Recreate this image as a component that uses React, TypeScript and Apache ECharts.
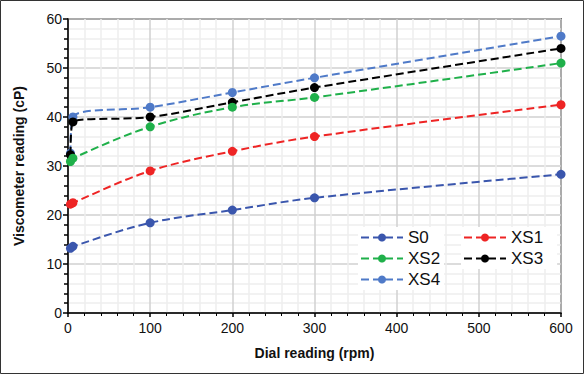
import React, { useEffect, useRef } from "react";
import * as echarts from "echarts";

const rpm = [3, 6, 100, 200, 300, 600];
const seriesNames = ["S0", "XS1", "XS2", "XS3", "XS4"];
const s0 = [13.2, 13.6, 18.4, 21, 23.5, 28.3];
const xs1 = [22.2, 22.5, 29, 33, 36, 42.5];
const xs2 = [30.9, 31.6, 38, 42, 44, 51];
const xs3 = [32.3, 39, 40, 43, 46, 54];
const xs4 = [32.6, 40, 42, 45, 48, 56.5];
const colors = ["#3a56ad", "#ee2424", "#1fb04a", "#000000", "#4f7ac8"];

export default function App() {
  const ref = useRef<HTMLDivElement>(null);
  useEffect(() => {
    if (!ref.current) return;
    const chart = echarts.init(ref.current, undefined, { renderer: "svg" });
    const all = [s0, xs1, xs2, xs3, xs4];
    const font = "'Liberation Sans', Arial, sans-serif";
    chart.setOption({
      animation: false,
      backgroundColor: "#ffffff",
      textStyle: { fontFamily: font },
      grid: {
        left: 68,
        right: 23,
        top: 19,
        bottom: 61,
        show: true,
        borderColor: "#000",
        borderWidth: 1.5,
        backgroundColor: "transparent",
      },
      graphic: [
        {
          type: "rect",
          shape: { x: 0.5, y: 0.5, width: 583, height: 373 },
          style: { fill: "none", stroke: "#333", lineWidth: 1 },
          silent: true,
        },
      ],
      legend: [
        {
          data: ["S0", "XS2", "XS4"],
          orient: "vertical",
          left: 358,
          top: 227,
          itemWidth: 42,
          itemHeight: 10,
          itemGap: 4,
          padding: [2, 4, 2, 2],
          backgroundColor: "#fff",
          textStyle: { fontSize: 17, color: "#111", fontFamily: font },
        },
        {
          data: ["XS1", "XS3"],
          orient: "vertical",
          left: 461,
          top: 227,
          itemWidth: 42,
          itemHeight: 10,
          itemGap: 4,
          padding: [2, 14, 2, 2],
          backgroundColor: "#fff",
          textStyle: { fontSize: 17, color: "#111", fontFamily: font },
        },
      ],
      xAxis: {
        type: "value",
        min: 0,
        max: 600,
        interval: 100,
        name: "Dial reading (rpm)",
        nameLocation: "middle",
        nameGap: 33,
        nameTextStyle: { fontSize: 14, fontWeight: "bold", color: "#111", fontFamily: font },
        axisLine: { show: true, onZero: false, lineStyle: { color: "#000", width: 1.5 } },
        axisTick: { show: true, inside: false, length: 4, lineStyle: { color: "#000", width: 1.5 } },
        minorTick: { show: true, splitNumber: 5, length: 3, lineStyle: { color: "#000" } },
        axisLabel: { fontSize: 14, color: "#111", margin: 8, fontFamily: font },
        splitLine: { show: true, lineStyle: { color: "#d0d0d0", width: 1.5 } },
        minorSplitLine: { show: true, lineStyle: { color: "#eeeeee", width: 1.5 } },
      },
      yAxis: {
        type: "value",
        min: 0,
        max: 60,
        interval: 10,
        name: "Viscometer reading (cP)",
        nameLocation: "middle",
        nameGap: 42,
        nameTextStyle: { fontSize: 14, fontWeight: "bold", color: "#111", fontFamily: font },
        axisLine: { show: true, lineStyle: { color: "#000", width: 1.5 } },
        axisTick: { show: true, length: 5, lineStyle: { color: "#000", width: 1.5 } },
        minorTick: { show: true, splitNumber: 5, length: 4, lineStyle: { color: "#000", width: 1.5 } },
        axisLabel: { fontSize: 14, color: "#111", margin: 6, fontFamily: font },
        splitLine: { show: true, lineStyle: { color: "#d0d0d0", width: 1.5 } },
        minorSplitLine: { show: true, lineStyle: { color: "#eeeeee", width: 1.5 } },
      },
      series: seriesNames.map((name, i) => ({
        name,
        type: "line",
        smooth: 0.35,
        symbol: "circle",
        symbolSize: 9,
        data: rpm.map((x, j) => [x, all[i][j]]),
        itemStyle: { color: colors[i] },
        lineStyle: { color: colors[i], width: 2, type: [8, 4] },
        z: 10 - i,
      })),
    });
    return () => chart.dispose();
  }, []);
  return (
    <div
      ref={ref}
      style={{ position: "fixed", left: 0, top: 0, width: 584, height: 374 }}
    />
  );
}
